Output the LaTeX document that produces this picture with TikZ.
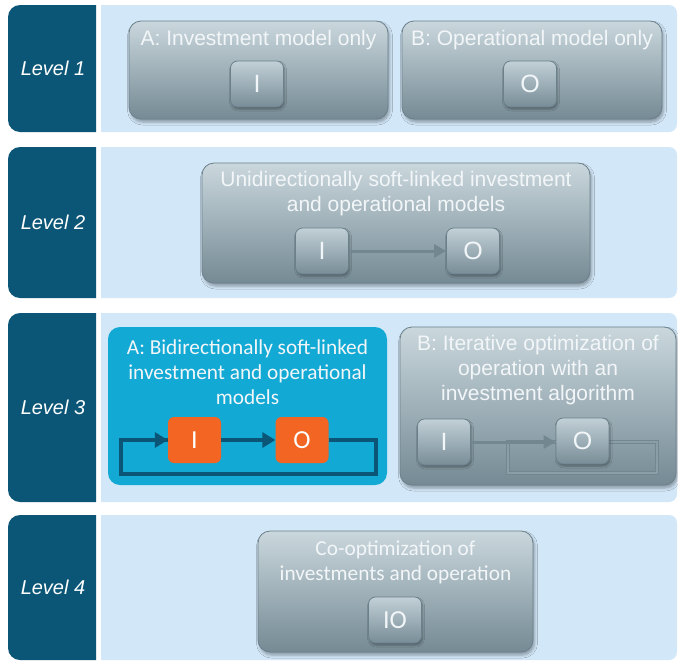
\documentclass[tikz,border=0pt]{standalone}
\usepackage{fontspec}
\setmainfont{Liberation Sans}
\newfontfamily\calfont{Carlito}
\usetikzlibrary{arrows.meta,shadows.blur}
\definecolor{tabc}{HTML}{0B5676}
\definecolor{bandc}{HTML}{D2E7F8}
\definecolor{boxtop}{HTML}{CAD7DD}
\definecolor{boxbot}{HTML}{758A94}
\definecolor{boxedge}{HTML}{6A808A}
\definecolor{sbtop}{HTML}{C2D0D7}
\definecolor{sbbot}{HTML}{788D97}
\definecolor{txtc}{HTML}{F2F6F8}
\definecolor{cyanbox}{HTML}{12A9D5}
\definecolor{orng}{HTML}{F26522}
\definecolor{garrow}{HTML}{72878F}
\definecolor{loopin}{HTML}{8A9EA7}
\begin{document}
\begin{tikzpicture}[x=1pt,y=-1pt,
  leveltext/.style={text=white, font=\fontsize{20}{24}\selectfont\itshape},
  bigbox/.style={rounded corners=12pt, draw=boxedge, line width=0.8pt,
    top color=boxtop, bottom color=boxbot, inner sep=0pt,
    blur shadow={shadow xshift=1.5pt, shadow yshift=-3pt, shadow blur radius=3pt, shadow opacity=35}},
  cyanframe/.style={rounded corners=12pt, fill=cyanbox, inner sep=0pt},
  smallbox/.style={rounded corners=7pt, draw=boxedge, line width=0.8pt,
    top color=sbtop, bottom color=sbbot, minimum width=53pt, minimum height=46pt,
    inner sep=0pt, text=txtc, font=\fontsize{25}{25}\selectfont,
    blur shadow={shadow xshift=1pt, shadow yshift=-2pt, shadow blur radius=2pt, shadow opacity=35}},
  orangebox/.style={rounded corners=6pt, fill=orng, minimum width=53pt, minimum height=46pt,
    inner sep=0pt, text=white, font=\calfont\fontsize{26}{26}\selectfont},
  boxtext/.style={text=txtc, align=center, font=\fontsize{21}{25}\selectfont},
  caltext/.style={text=txtc, align=center, font=\calfont\fontsize{21.3}{25}\selectfont},
  grayarrow/.style={draw=garrow, line width=3pt, -{Triangle[length=12pt,width=13pt]}},
  grayloop/.style={draw=garrow, double=loopin, line width=0.6pt, double distance=2.4pt},
  blueline/.style={draw=tabc, line width=4.5pt, line join=miter},
  bluearrow/.style={blueline, -{Triangle[length=13pt,width=15pt]}}
]
\useasboundingbox (0,0) rectangle (678,662);
\fill[white] (0,0) rectangle (678,662);
% level rows
\newcommand\levelrow[4]{%
  \fill[tabc] (96,#1) [rounded corners=12pt] -- (8,#1) -- (8,#2) [sharp corners] -- (96,#2) -- cycle;
  \fill[bandc] (101,#1) [rounded corners=8pt] -- (677,#1) -- (677,#2) [sharp corners] -- (101,#2) -- cycle;
  \node[leveltext] (#4) at (53,{(#1+#2)/2}) {#3};
}
\levelrow{5}{132}{Level 1}{lv1}
\levelrow{147}{298}{Level 2}{lv2}
\levelrow{313}{502}{Level 3}{lv3}
\levelrow{515}{660}{Level 4}{lv4}

% Level 1
\node[bigbox, minimum width=259pt, minimum height=98pt] (b1a) at (258.5,70) {};
\node[boxtext] (t1a) at (258.5,40) {A: Investment model only};
\node[smallbox] (i1a) at (257,84) {I};
\node[bigbox, minimum width=260pt, minimum height=98pt] (b1b) at (532,70) {};
\node[boxtext] (t1b) at (532,40) {B: Operational model only};
\node[smallbox] (o1b) at (530,84) {O};

% Level 2
\node[bigbox, minimum width=388pt, minimum height=120pt] (b2) at (396,223) {};
\node[boxtext] (t2) at (396,194) {Unidirectionally soft-linked investment\\and operational models};
\node[smallbox] (i2) at (322,251) {I};
\node[smallbox] (o2) at (473,251) {O};
\draw[grayarrow] (i2.east) -- (o2.west);

% Level 3 A
\node[cyanframe, minimum width=279pt, minimum height=158pt] (b3a) at (247.5,406) {};
\node[caltext] (t3a) at (247.5,372) {A: Bidirectionally soft-linked\\investment and operational\\models};
\node[orangebox] (i3a) at (194.5,440) {I};
\node[orangebox] (o3a) at (302,440) {O};
\draw[blueline] (o3a.east) -- (376,440) -- (376,474) -- (121,474) -- (121,440) -- (i3a.west);
\draw[bluearrow] (121,440) -- (i3a.west);
\draw[bluearrow] (i3a.east) -- (o3a.west);

% Level 3 B
\node[bigbox, minimum width=276pt, minimum height=158pt] (b3b) at (538,406) {};
\node[boxtext] (t3b) at (538,370) {B: Iterative optimization of\\operation with an\\investment algorithm};
\draw[grayloop] (508,442) -- (657,442) -- (657,473) -- (508,473) -- cycle;
\node[smallbox] (i3b) at (444,442) {I};
\node[smallbox] (o3b) at (582.5,441) {O};
\draw[grayarrow] (i3b.east) -- (i3b.east -| o3b.west);

% Level 4
\node[bigbox, minimum width=275pt, minimum height=121pt] (b4) at (395.5,591.5) {};
\node[caltext] (t4) at (395.5,562) {Co-optimization of\\investments and operation};
\node[smallbox, font=\calfont\fontsize{26}{26}\selectfont] (io4) at (395,620) {IO};
\end{tikzpicture}
\end{document}
